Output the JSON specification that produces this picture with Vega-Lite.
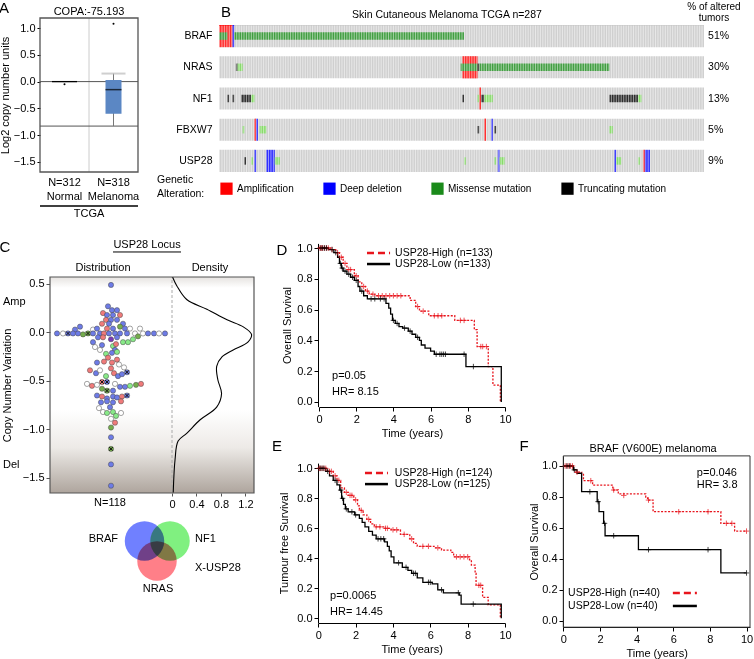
{
"$schema":"https://vega.github.io/schema/vega-lite/v6.json",
"width":754,"height":659,"autosize":{"type":"none"},"padding":0,"background":"white",
"config":{"font":"Liberation Sans","view":{"stroke":null},
 "axis":{"labelFont":"Liberation Sans","titleFont":"Liberation Sans","labelFontSize":11,"titleFontSize":11,"titleFontWeight":"normal","labelColor":"#000","titleColor":"#000","domainColor":"#000","tickColor":"#000","grid":false,"labelFlush":false,"labelOverlap":false},
 "text":{"fontSize":11,"font":"Liberation Sans","color":"#000"},
 "legend":{"labelFont":"Liberation Sans"}},
"datasets":{
 "refA":[{"ref":0},{"ref":-0.83}],
 "boxA":[{"grp":"Normal","q1":-0.012,"med":0,"q3":0.012,"lo":-0.02,"hi":0.02},{"grp":"Melanoma","q1":-0.6,"med":-0.15,"q3":0.03,"lo":-0.83,"hi":0.15}],
 "outA":[{"grp":"Normal","v":-0.05},{"grp":"Melanoma","v":1.08}],
 "genes":[{"g":"BRAF","p":"51%"},{"g":"NRAS","p":"30%"},{"g":"NF1","p":"13%"},{"g":"FBXW7","p":"5%"},{"g":"USP28","p":"9%"}],
 "alt":[
  {"g":"BRAF","s0":0,"s1":8,"t":"Amplification"},{"g":"BRAF","s0":8,"s1":9,"t":"Deep deletion"},{"g":"BRAF","s0":0,"s1":5,"t":"Missense mutation"},{"g":"BRAF","s0":9,"s1":145,"t":"Missense mutation"},
  {"g":"NRAS","s0":10,"s1":11,"t":"Truncating mutation"},{"g":"NRAS","s0":11,"s1":14,"t":"Other mutation"},{"g":"NRAS","s0":144,"s1":153,"t":"Amplification"},{"g":"NRAS","s0":143,"s1":153,"t":"Missense mutation"},{"g":"NRAS","s0":153,"s1":154,"t":"Truncating mutation"},{"g":"NRAS","s0":154,"s1":231,"t":"Missense mutation"},
  {"g":"NF1","s0":5,"s1":6,"t":"Truncating mutation"},{"g":"NF1","s0":8,"s1":9,"t":"Truncating mutation"},{"g":"NF1","s0":13,"s1":19,"t":"Truncating mutation"},{"g":"NF1","s0":19,"s1":21,"t":"Other mutation"},{"g":"NF1","s0":144,"s1":145,"t":"Truncating mutation"},{"g":"NF1","s0":153,"s1":154,"t":"Other mutation"},{"g":"NF1","s0":154,"s1":155,"t":"Amplification"},{"g":"NF1","s0":155,"s1":157,"t":"Truncating mutation"},{"g":"NF1","s0":157,"s1":162,"t":"Other mutation"},{"g":"NF1","s0":231,"s1":248,"t":"Truncating mutation"},{"g":"NF1","s0":248,"s1":250,"t":"Other mutation"},
  {"g":"FBXW7","s0":14,"s1":15,"t":"Other mutation"},{"g":"FBXW7","s0":21,"s1":22,"t":"Amplification"},{"g":"FBXW7","s0":22,"s1":23,"t":"Deep deletion"},{"g":"FBXW7","s0":24,"s1":28,"t":"Other mutation"},{"g":"FBXW7","s0":153,"s1":154,"t":"Truncating mutation"},{"g":"FBXW7","s0":157,"s1":158,"t":"Amplification"},{"g":"FBXW7","s0":161,"s1":162,"t":"Deep deletion"},{"g":"FBXW7","s0":163,"s1":164,"t":"Truncating mutation"},{"g":"FBXW7","s0":231,"s1":233,"t":"Other mutation"},
  {"g":"USP28","s0":15,"s1":16,"t":"Truncating mutation"},{"g":"USP28","s0":19,"s1":20,"t":"Other mutation"},{"g":"USP28","s0":21,"s1":22,"t":"Deep deletion"},{"g":"USP28","s0":28,"s1":33,"t":"Deep deletion"},{"g":"USP28","s0":33,"s1":36,"t":"Other mutation"},{"g":"USP28","s0":145,"s1":146,"t":"Other mutation"},{"g":"USP28","s0":163,"s1":164,"t":"Other mutation"},{"g":"USP28","s0":165,"s1":166,"t":"Deep deletion"},{"g":"USP28","s0":166,"s1":169,"t":"Other mutation"},{"g":"USP28","s0":234,"s1":235,"t":"Deep deletion"},{"g":"USP28","s0":235,"s1":238,"t":"Other mutation"},{"g":"USP28","s0":248,"s1":249,"t":"Other mutation"},{"g":"USP28","s0":251,"s1":252,"t":"Amplification"},{"g":"USP28","s0":252,"s1":255,"t":"Deep deletion"}],
 "dots":[
  {"o":0,"v":0.49,"c":"b"},{"o":-3,"v":0.27,"c":"b"},{"o":1,"v":0.23,"c":"b"},{"o":6,"v":0.23,"c":"b"},{"o":-8,"v":0.2,"c":"r"},{"o":-4,"v":0.18,"c":"b"},{"o":2,"v":0.18,"c":"b"},{"o":9,"v":0.18,"c":"r"},{"o":-5,"v":0.13,"c":"r"},{"o":0,"v":0.13,"c":"b"},{"o":6,"v":0.13,"c":"b"},{"o":-9,"v":0.09,"c":"r"},{"o":-2,"v":0.09,"c":"b"},{"o":12,"v":0.09,"c":"b"},{"o":-31,"v":0.06,"c":"b"},{"o":9,"v":0.06,"c":"o"},{"o":-36,"v":0.03,"c":"b"},{"o":-18,"v":0.03,"c":"w"},{"o":-14,"v":0.04,"c":"b"},{"o":-4,"v":0.04,"c":"r"},{"o":2,"v":0.04,"c":"b"},{"o":14,"v":0.04,"c":"b"},{"o":19,"v":0.04,"c":"w"},{"o":29,"v":0.04,"c":"w"},
  {"o":-54,"v":-0.01,"c":"b"},{"o":-48,"v":-0.01,"c":"w"},{"o":-43,"v":-0.01,"c":"b","x":1},{"o":-38,"v":-0.01,"c":"b"},{"o":-33,"v":-0.01,"c":"b"},{"o":-28,"v":-0.02,"c":"o"},{"o":-23,"v":-0.01,"c":"o","x":1},{"o":-18,"v":-0.01,"c":"b"},{"o":-11,"v":-0.01,"c":"b"},{"o":-7,"v":-0.01,"c":"r"},{"o":-2,"v":-0.01,"c":"b"},{"o":4,"v":-0.01,"c":"b"},{"o":9,"v":-0.01,"c":"b"},{"o":16,"v":-0.01,"c":"b"},{"o":24,"v":-0.01,"c":"w"},{"o":27,"v":-0.04,"c":"o"},{"o":32,"v":-0.01,"c":"w"},{"o":37,"v":-0.01,"c":"b"},{"o":43,"v":-0.01,"c":"b"},{"o":48,"v":-0.01,"c":"w"},{"o":54,"v":-0.01,"c":"b"},
  {"o":-13,"v":-0.05,"c":"b"},{"o":-8,"v":-0.05,"c":"r"},{"o":0,"v":-0.07,"c":"p"},{"o":6,"v":-0.05,"c":"b"},{"o":12,"v":-0.1,"c":"g"},{"o":17,"v":-0.1,"c":"g"},{"o":22,"v":-0.07,"c":"g"},{"o":-18,"v":-0.1,"c":"b"},{"o":-9,"v":-0.13,"c":"b"},{"o":2,"v":-0.14,"c":"g"},{"o":5,"v":-0.12,"c":"r"},{"o":4,"v":-0.18,"c":"b"},{"o":-16,"v":-0.15,"c":"w"},{"o":-11,"v":-0.18,"c":"w"},{"o":-5,"v":-0.22,"c":"g"},{"o":1,"v":-0.21,"c":"b"},{"o":6,"v":-0.2,"c":"g"},{"o":-3,"v":-0.26,"c":"r"},{"o":6,"v":-0.28,"c":"r"},
  {"o":-14,"v":-0.31,"c":"b"},{"o":-7,"v":-0.3,"c":"r"},{"o":1,"v":-0.31,"c":"r"},{"o":8,"v":-0.33,"c":"w"},{"o":13,"v":-0.36,"c":"w"},{"o":-21,"v":-0.39,"c":"r"},{"o":-15,"v":-0.42,"c":"b"},{"o":-11,"v":-0.39,"c":"w"},{"o":-5,"v":-0.45,"c":"g"},{"o":0,"v":-0.37,"c":"r"},{"o":3,"v":-0.42,"c":"r"},{"o":7,"v":-0.45,"c":"b"},{"o":11,"v":-0.43,"c":"b"},{"o":16,"v":-0.41,"c":"b","x":1},
  {"o":-24,"v":-0.53,"c":"w"},{"o":-19,"v":-0.55,"c":"r"},{"o":-14,"v":-0.54,"c":"w"},{"o":-9,"v":-0.51,"c":"r","x":1},{"o":-4,"v":-0.51,"c":"b","x":1},{"o":4,"v":-0.53,"c":"w"},{"o":9,"v":-0.56,"c":"b"},{"o":14,"v":-0.56,"c":"b"},{"o":19,"v":-0.55,"c":"g"},{"o":25,"v":-0.54,"c":"o"},{"o":30,"v":-0.53,"c":"r"},{"o":-9,"v":-0.58,"c":"o"},{"o":-4,"v":-0.6,"c":"o","x":1},{"o":2,"v":-0.6,"c":"b"},
  {"o":-14,"v":-0.65,"c":"b"},{"o":-9,"v":-0.66,"c":"r"},{"o":-4,"v":-0.68,"c":"b"},{"o":2,"v":-0.66,"c":"b"},{"o":6,"v":-0.67,"c":"b"},{"o":11,"v":-0.66,"c":"r"},{"o":16,"v":-0.65,"c":"b","x":1},{"o":-10,"v":-0.72,"c":"b"},{"o":-4,"v":-0.71,"c":"b"},{"o":2,"v":-0.72,"c":"b"},{"o":10,"v":-0.71,"c":"r"},{"o":-1,"v":-0.77,"c":"b"},{"o":-12,"v":-0.78,"c":"w"},{"o":-8,"v":-0.82,"c":"w"},{"o":-4,"v":-0.83,"c":"g"},{"o":2,"v":-0.82,"c":"g"},{"o":10,"v":-0.83,"c":"w"},{"o":5,"v":-0.86,"c":"g"},{"o":0,"v":-0.89,"c":"w"},{"o":4,"v":-0.93,"c":"r"},{"o":0,"v":-0.98,"c":"o"},{"o":0,"v":-1.08,"c":"b"},{"o":0,"v":-1.2,"c":"o","x":1},{"o":0,"v":-1.36,"c":"b"},{"o":0,"v":-1.58,"c":"b"}],
 "dens":[{"d":0.01,"v":0.57},{"d":0.08,"v":0.48},{"d":0.24,"v":0.34},{"d":0.57,"v":0.24},{"d":0.9,"v":0.13},{"d":1.16,"v":0.06},{"d":1.3,"v":-0.02},{"d":1.24,"v":-0.1},{"d":1.0,"v":-0.18},{"d":0.82,"v":-0.25},{"d":0.73,"v":-0.35},{"d":0.75,"v":-0.49},{"d":0.81,"v":-0.63},{"d":0.73,"v":-0.77},{"d":0.46,"v":-0.9},{"d":0.24,"v":-1.04},{"d":0.1,"v":-1.12},{"d":0.05,"v":-1.31},{"d":0.02,"v":-1.65}],
 "kmD":[
  {"g":"High","t":0,"s":1},{"g":"High","t":0.6,"s":0.99},{"g":"High","t":0.9,"s":0.97},{"g":"High","t":1.1,"s":0.94},{"g":"High","t":1.3,"s":0.9},{"g":"High","t":1.5,"s":0.86},{"g":"High","t":1.9,"s":0.82},{"g":"High","t":2.1,"s":0.78},{"g":"High","t":2.3,"s":0.75},{"g":"High","t":2.5,"s":0.72},{"g":"High","t":2.7,"s":0.7},{"g":"High","t":3.0,"s":0.69},{"g":"High","t":4.9,"s":0.66},{"g":"High","t":5.2,"s":0.62},{"g":"High","t":5.4,"s":0.59},{"g":"High","t":5.9,"s":0.56},{"g":"High","t":7.3,"s":0.53},{"g":"High","t":8.35,"s":0.47},{"g":"High","t":8.5,"s":0.36},{"g":"High","t":9.1,"s":0.23},{"g":"High","t":9.35,"s":0.11},{"g":"High","t":9.75,"s":0},
  {"g":"Low","t":0,"s":1},{"g":"Low","t":0.5,"s":0.99},{"g":"Low","t":0.8,"s":0.97},{"g":"Low","t":1.0,"s":0.94},{"g":"Low","t":1.1,"s":0.9},{"g":"Low","t":1.2,"s":0.87},{"g":"Low","t":1.3,"s":0.85},{"g":"Low","t":1.5,"s":0.83},{"g":"Low","t":1.7,"s":0.81},{"g":"Low","t":1.9,"s":0.79},{"g":"Low","t":2.1,"s":0.75},{"g":"Low","t":2.2,"s":0.72},{"g":"Low","t":2.4,"s":0.69},{"g":"Low","t":2.6,"s":0.67},{"g":"Low","t":3.6,"s":0.64},{"g":"Low","t":3.75,"s":0.61},{"g":"Low","t":3.85,"s":0.57},{"g":"Low","t":3.95,"s":0.53},{"g":"Low","t":4.1,"s":0.51},{"g":"Low","t":4.3,"s":0.49},{"g":"Low","t":4.5,"s":0.48},{"g":"Low","t":4.8,"s":0.46},{"g":"Low","t":5.0,"s":0.44},{"g":"Low","t":5.2,"s":0.42},{"g":"Low","t":5.4,"s":0.4},{"g":"Low","t":5.5,"s":0.37},{"g":"Low","t":5.7,"s":0.35},{"g":"Low","t":6.0,"s":0.33},{"g":"Low","t":6.2,"s":0.31},{"g":"Low","t":7.9,"s":0.23},{"g":"Low","t":9.8,"s":0}],
 "cD":[
  {"g":"High","t":0.05,"s":1},{"g":"High","t":0.1,"s":1},{"g":"High","t":0.15,"s":1},{"g":"High","t":0.2,"s":1},{"g":"High","t":0.3,"s":1},{"g":"High","t":0.4,"s":1},{"g":"High","t":0.5,"s":1},{"g":"High","t":0.7,"s":0.99},{"g":"High","t":1.0,"s":0.97},{"g":"High","t":1.2,"s":0.94},{"g":"High","t":1.4,"s":0.9},{"g":"High","t":1.6,"s":0.86},{"g":"High","t":1.7,"s":0.86},{"g":"High","t":2.0,"s":0.82},{"g":"High","t":2.4,"s":0.75},{"g":"High","t":2.6,"s":0.72},{"g":"High","t":2.9,"s":0.7},{"g":"High","t":3.2,"s":0.69},{"g":"High","t":3.4,"s":0.69},{"g":"High","t":3.6,"s":0.69},{"g":"High","t":3.8,"s":0.69},{"g":"High","t":4.0,"s":0.69},{"g":"High","t":4.2,"s":0.69},{"g":"High","t":4.4,"s":0.69},{"g":"High","t":5.3,"s":0.62},{"g":"High","t":5.6,"s":0.59},{"g":"High","t":6.2,"s":0.56},{"g":"High","t":6.4,"s":0.56},{"g":"High","t":6.6,"s":0.56},{"g":"High","t":7.6,"s":0.53},{"g":"High","t":7.8,"s":0.53},{"g":"High","t":8.7,"s":0.36},{"g":"High","t":8.8,"s":0.36},{"g":"High","t":9.0,"s":0.36},
  {"g":"Low","t":0.1,"s":1},{"g":"Low","t":0.2,"s":1},{"g":"Low","t":0.3,"s":1},{"g":"Low","t":0.4,"s":1},{"g":"Low","t":0.7,"s":0.99},{"g":"Low","t":0.9,"s":0.97},{"g":"Low","t":1.15,"s":0.9},{"g":"Low","t":1.25,"s":0.87},{"g":"Low","t":1.4,"s":0.85},{"g":"Low","t":1.6,"s":0.83},{"g":"Low","t":1.8,"s":0.81},{"g":"Low","t":2.0,"s":0.79},{"g":"Low","t":2.3,"s":0.72},{"g":"Low","t":2.8,"s":0.67},{"g":"Low","t":3.0,"s":0.67},{"g":"Low","t":3.3,"s":0.67},{"g":"Low","t":3.5,"s":0.67},{"g":"Low","t":4.0,"s":0.53},{"g":"Low","t":4.2,"s":0.51},{"g":"Low","t":4.6,"s":0.48},{"g":"Low","t":4.9,"s":0.46},{"g":"Low","t":5.3,"s":0.42},{"g":"Low","t":6.3,"s":0.31},{"g":"Low","t":6.5,"s":0.31},{"g":"Low","t":6.6,"s":0.31},{"g":"Low","t":6.7,"s":0.31},{"g":"Low","t":6.8,"s":0.31},{"g":"Low","t":7.8,"s":0.31},{"g":"Low","t":8.3,"s":0.23}],
 "kmE":[
  {"g":"High","t":0,"s":1},{"g":"High","t":0.5,"s":0.98},{"g":"High","t":0.8,"s":0.95},{"g":"High","t":1.0,"s":0.92},{"g":"High","t":1.2,"s":0.87},{"g":"High","t":1.4,"s":0.84},{"g":"High","t":1.6,"s":0.82},{"g":"High","t":1.9,"s":0.79},{"g":"High","t":2.1,"s":0.75},{"g":"High","t":2.2,"s":0.72},{"g":"High","t":2.4,"s":0.69},{"g":"High","t":2.6,"s":0.66},{"g":"High","t":2.8,"s":0.63},{"g":"High","t":3.0,"s":0.61},{"g":"High","t":3.5,"s":0.6},{"g":"High","t":3.9,"s":0.59},{"g":"High","t":4.4,"s":0.56},{"g":"High","t":4.9,"s":0.53},{"g":"High","t":5.1,"s":0.5},{"g":"High","t":5.3,"s":0.48},{"g":"High","t":6.2,"s":0.47},{"g":"High","t":6.6,"s":0.455},{"g":"High","t":7.1,"s":0.44},{"g":"High","t":7.25,"s":0.41},{"g":"High","t":8.1,"s":0.39},{"g":"High","t":8.2,"s":0.355},{"g":"High","t":8.4,"s":0.3},{"g":"High","t":8.45,"s":0.22},{"g":"High","t":8.8,"s":0.14},{"g":"High","t":9.1,"s":0.09},{"g":"High","t":9.75,"s":0},
  {"g":"Low","t":0,"s":1},{"g":"Low","t":0.4,"s":0.98},{"g":"Low","t":0.6,"s":0.95},{"g":"Low","t":0.8,"s":0.92},{"g":"Low","t":1.0,"s":0.89},{"g":"Low","t":1.15,"s":0.855},{"g":"Low","t":1.25,"s":0.8},{"g":"Low","t":1.35,"s":0.76},{"g":"Low","t":1.45,"s":0.73},{"g":"Low","t":1.6,"s":0.71},{"g":"Low","t":1.95,"s":0.69},{"g":"Low","t":2.2,"s":0.667},{"g":"Low","t":2.35,"s":0.64},{"g":"Low","t":2.5,"s":0.61},{"g":"Low","t":2.7,"s":0.58},{"g":"Low","t":2.9,"s":0.555},{"g":"Low","t":3.1,"s":0.53},{"g":"Low","t":3.55,"s":0.51},{"g":"Low","t":3.7,"s":0.48},{"g":"Low","t":3.8,"s":0.45},{"g":"Low","t":3.9,"s":0.41},{"g":"Low","t":4.05,"s":0.37},{"g":"Low","t":4.5,"s":0.34},{"g":"Low","t":4.8,"s":0.32},{"g":"Low","t":5.0,"s":0.3},{"g":"Low","t":5.3,"s":0.27},{"g":"Low","t":5.6,"s":0.24},{"g":"Low","t":6.1,"s":0.23},{"g":"Low","t":6.4,"s":0.19},{"g":"Low","t":6.7,"s":0.17},{"g":"Low","t":7.55,"s":0.155},{"g":"Low","t":7.65,"s":0.095},{"g":"Low","t":9.8,"s":0}],
 "cE":[
  {"g":"High","t":0.05,"s":1},{"g":"High","t":0.1,"s":1},{"g":"High","t":0.2,"s":1},{"g":"High","t":0.3,"s":1},{"g":"High","t":0.4,"s":1},{"g":"High","t":0.6,"s":0.98},{"g":"High","t":0.7,"s":0.98},{"g":"High","t":0.9,"s":0.95},{"g":"High","t":1.1,"s":0.92},{"g":"High","t":1.5,"s":0.84},{"g":"High","t":1.7,"s":0.82},{"g":"High","t":1.8,"s":0.82},{"g":"High","t":2.0,"s":0.79},{"g":"High","t":2.3,"s":0.72},{"g":"High","t":2.7,"s":0.66},{"g":"High","t":3.1,"s":0.61},{"g":"High","t":3.3,"s":0.61},{"g":"High","t":3.6,"s":0.6},{"g":"High","t":3.7,"s":0.6},{"g":"High","t":4.0,"s":0.59},{"g":"High","t":4.2,"s":0.59},{"g":"High","t":4.6,"s":0.56},{"g":"High","t":5.0,"s":0.53},{"g":"High","t":5.6,"s":0.48},{"g":"High","t":5.9,"s":0.48},{"g":"High","t":6.4,"s":0.47},{"g":"High","t":7.4,"s":0.41},{"g":"High","t":7.6,"s":0.41},{"g":"High","t":7.8,"s":0.41},{"g":"High","t":8.0,"s":0.41},{"g":"High","t":8.6,"s":0.22},{"g":"High","t":8.7,"s":0.22},
  {"g":"Low","t":0.1,"s":1},{"g":"Low","t":0.2,"s":1},{"g":"Low","t":0.3,"s":1},{"g":"Low","t":0.5,"s":0.98},{"g":"Low","t":0.9,"s":0.92},{"g":"Low","t":1.2,"s":0.855},{"g":"Low","t":1.3,"s":0.8},{"g":"Low","t":1.5,"s":0.73},{"g":"Low","t":1.8,"s":0.71},{"g":"Low","t":2.0,"s":0.69},{"g":"Low","t":3.2,"s":0.53},{"g":"Low","t":3.35,"s":0.53},{"g":"Low","t":3.5,"s":0.53},{"g":"Low","t":4.3,"s":0.37},{"g":"Low","t":4.7,"s":0.34},{"g":"Low","t":5.1,"s":0.3},{"g":"Low","t":5.2,"s":0.3},{"g":"Low","t":5.9,"s":0.24},{"g":"Low","t":6.0,"s":0.24},{"g":"Low","t":6.6,"s":0.19},{"g":"Low","t":7.5,"s":0.17},{"g":"Low","t":8.3,"s":0.095}],
 "kmF":[
  {"g":"High","t":0,"s":1},{"g":"High","t":0.55,"s":0.975},{"g":"High","t":0.65,"s":0.96},{"g":"High","t":1.0,"s":0.946},{"g":"High","t":1.1,"s":0.905},{"g":"High","t":1.6,"s":0.877},{"g":"High","t":2.7,"s":0.845},{"g":"High","t":3.0,"s":0.82},{"g":"High","t":4.5,"s":0.8},{"g":"High","t":4.6,"s":0.78},{"g":"High","t":4.9,"s":0.705},{"g":"High","t":8.6,"s":0.63},{"g":"High","t":9.35,"s":0.58},{"g":"High","t":10,"s":0.58},
  {"g":"Low","t":0,"s":1},{"g":"Low","t":0.55,"s":0.975},{"g":"Low","t":0.75,"s":0.953},{"g":"Low","t":1.0,"s":0.834},{"g":"Low","t":1.85,"s":0.77},{"g":"Low","t":1.95,"s":0.705},{"g":"Low","t":2.2,"s":0.63},{"g":"Low","t":2.28,"s":0.55},{"g":"Low","t":4.1,"s":0.46},{"g":"Low","t":8.6,"s":0.31},{"g":"Low","t":10,"s":0.31}],
 "cF":[
  {"g":"High","t":0.1,"s":1},{"g":"High","t":0.2,"s":1},{"g":"High","t":0.3,"s":1},{"g":"High","t":0.4,"s":1},{"g":"High","t":0.5,"s":1},{"g":"High","t":0.75,"s":0.96},{"g":"High","t":1.5,"s":0.905},{"g":"High","t":2.75,"s":0.845},{"g":"High","t":3.3,"s":0.81},{"g":"High","t":4.65,"s":0.78},{"g":"High","t":6.3,"s":0.705},{"g":"High","t":7.9,"s":0.705},{"g":"High","t":8.9,"s":0.63},{"g":"High","t":9.2,"s":0.63},{"g":"High","t":10,"s":0.58},
  {"g":"Low","t":0.2,"s":1},{"g":"Low","t":0.35,"s":1},{"g":"Low","t":0.6,"s":0.975},{"g":"Low","t":1.45,"s":0.834},{"g":"Low","t":1.9,"s":0.77},{"g":"Low","t":2.25,"s":0.63},{"g":"Low","t":2.75,"s":0.55},{"g":"Low","t":4.65,"s":0.46},{"g":"Low","t":7.9,"s":0.46},{"g":"Low","t":10,"s":0.31}]
},
"layer":[
 {"layer":[
  {"data":{"values":[{}]},"mark":{"type":"rule","color":"#cccccc"},"encoding":{"x":{"datum":1,"type":"quantitative","scale":{"domain":[0,2],"range":[40,138],"nice":false,"zero":false},"axis":null},"y":{"datum":-1.687,"type":"quantitative","scale":{"domain":[-1.687,1.187],"range":[172,18],"nice":false,"zero":false},"axis":{"orient":"left","offset":-40,"values":[-1.5,-1,-0.5,0,0.5,1],"format":".1f","title":"Log2 copy number units","tickSize":3,"labelPadding":2,"titlePadding":3,"domain":false}},"y2":{"datum":1.187}}},
  {"data":{"name":"refA"},"mark":{"type":"rule","color":"#555","strokeWidth":1},"encoding":{"x":{"datum":0,"axis":null},"x2":{"datum":2},"y":{"field":"ref","type":"quantitative"}}},
  {"data":{"values":[{}]},"mark":{"type":"rect","fill":null,"stroke":"#555","strokeWidth":1.3},"encoding":{"x":{"datum":0,"axis":null},"x2":{"datum":2},"y":{"datum":-1.687},"y2":{"datum":1.187}}},
  {"data":{"values":[{}]},"mark":{"type":"rule","color":"#000","strokeWidth":1.5},"encoding":{"x":{"datum":0,"axis":null},"x2":{"datum":2},"y":{"datum":-2.322}}},
  {"data":{"values":[{}]},"mark":{"type":"text","text":"TCGA"},"encoding":{"x":{"datum":1,"axis":null},"y":{"datum":-2.471}}},
  {"data":{"values":[{}]},"mark":{"type":"text","text":"COPA:-75.193"},"encoding":{"x":{"datum":1,"axis":null},"y":{"datum":1.299}}},
  {"data":{"values":[{}]},"mark":{"type":"text","text":"A","fontSize":15},"encoding":{"x":{"datum":-0.735,"axis":null},"y":{"datum":1.374}}}
 ]},
 {"layer":[
  {"data":{"name":"boxA"},"transform":[{"filter":"datum.grp=='Melanoma'"}],"mark":{"type":"rule","color":"#777"},"encoding":{"x":{"field":"grp","type":"nominal","scale":{"type":"band","domain":["Normal","Melanoma"],"range":[40,138],"paddingInner":0,"paddingOuter":0},"axis":{"orient":"bottom","offset":-487,"labelExpr":"datum.value == 'Normal' ? ['N=312','Normal'] : ['N=318','Melanoma']","ticks":false,"domain":false,"labelPadding":4,"labelLineHeight":14,"labelAngle":0,"title":null}},"y":{"field":"lo","type":"quantitative","scale":{"domain":[-1.687,1.187],"range":[172,18],"nice":false,"zero":false},"axis":null},"y2":{"field":"hi"}}},
  {"data":{"name":"boxA"},"transform":[{"filter":"datum.grp=='Normal'"}],"mark":{"type":"bar","size":25,"color":"#000"},"encoding":{"x":{"field":"grp","type":"nominal"},"y":{"field":"q1","type":"quantitative","axis":null},"y2":{"field":"q3"}}},
  {"data":{"name":"boxA"},"transform":[{"filter":"datum.grp=='Melanoma'"}],"mark":{"type":"bar","size":16,"color":"#5b87c4"},"encoding":{"x":{"field":"grp","type":"nominal"},"y":{"field":"q1","type":"quantitative","axis":null},"y2":{"field":"q3"}}},
  {"data":{"name":"boxA"},"transform":[{"filter":"datum.grp=='Melanoma'"}],"mark":{"type":"tick","size":16,"thickness":1.5,"color":"#000"},"encoding":{"x":{"field":"grp","type":"nominal"},"y":{"field":"med","type":"quantitative","axis":null}}},
  {"data":{"name":"boxA"},"transform":[{"filter":"datum.grp=='Melanoma'"}],"mark":{"type":"tick","size":24,"thickness":2,"color":"#bbbbbb"},"encoding":{"x":{"field":"grp","type":"nominal"},"y":{"field":"hi","type":"quantitative","axis":null}}},
  {"data":{"name":"outA"},"mark":{"type":"point","filled":true,"size":4,"color":"#000","opacity":1},"encoding":{"x":{"field":"grp","type":"nominal"},"y":{"field":"v","type":"quantitative","axis":null}}}
 ]},
 {"layer":[
  {"data":{"name":"genes"},"mark":{"type":"bar","color":"#c6c6c6"},"encoding":{"x":{"datum":0,"type":"quantitative","scale":{"domain":[0,287],"range":[219,704],"nice":false,"zero":false},"axis":{"orient":"bottom","offset":-634,"tickCount":287,"tickRound":false,"labels":false,"domain":false,"tickSize":147,"tickColor":"white","tickWidth":0.6,"title":null,"zindex":1}},"x2":{"datum":287},"y":{"field":"g","type":"nominal","scale":{"domain":["BRAF","NRAS","NF1","FBXW7","USP28"],"range":[25,172],"paddingInner":0.29,"paddingOuter":0},"axis":{"orient":"left","offset":-215,"ticks":false,"domain":false,"labelPadding":3,"labelFontSize":10.5,"title":null}}}},
  {"data":{"name":"alt"},"transform":[{"filter":{"field":"t","oneOf":["Amplification","Deep deletion"]}}],"mark":{"type":"bar"},"encoding":{"x":{"field":"s0","type":"quantitative"},"x2":{"field":"s1"},"y":{"field":"g","type":"nominal"},"color":{"field":"t","type":"nominal","scale":{"domain":["Amplification","Deep deletion","Missense mutation","Truncating mutation","Other mutation"],"range":["#ff0000","#0000ff","#1a8a1a","#000000","#6fd44c"]},"legend":{"orient":"none","legendX":220,"legendY":182,"direction":"horizontal","columns":4,"title":null,"symbolType":"square","symbolSize":150,"symbolStrokeWidth":0,"symbolOpacity":1,"labelFontSize":10,"labelOffset":4,"columnPadding":29,"padding":0,"values":["Amplification","Deep deletion","Missense mutation","Truncating mutation"]}}}},
  {"data":{"name":"alt"},"transform":[{"filter":{"field":"t","oneOf":["Missense mutation","Truncating mutation","Other mutation"]}}],"mark":{"type":"bar","size":7.5},"encoding":{"x":{"field":"s0","type":"quantitative"},"x2":{"field":"s1"},"y":{"field":"g","type":"nominal"},"color":{"field":"t","type":"nominal","legend":null}}},
  {"data":{"name":"genes"},"mark":{"type":"text","align":"left","fontSize":10.5},"encoding":{"x":{"datum":289.4},"y":{"field":"g","type":"nominal"},"text":{"field":"p"}}},
  {"data":{"values":[{}]},"mark":{"type":"text","text":"Skin Cutaneous Melanoma TCGA n=287","fontSize":10.5,"dy":-21},"encoding":{"x":{"datum":134.9},"y":{"datum":"BRAF","type":"nominal"}}},
  {"data":{"values":[{}]},"mark":{"type":"text","text":["% of altered","tumors"],"fontSize":10,"lineHeight":11,"dy":-29},"encoding":{"x":{"datum":292.9},"y":{"datum":"BRAF","type":"nominal"}}},
  {"data":{"values":[{}]},"mark":{"type":"text","text":"B","fontSize":15,"dy":-24},"encoding":{"x":{"datum":4.1},"y":{"datum":"BRAF","type":"nominal"}}},
  {"data":{"values":[{}]},"mark":{"type":"text","text":["Genetic","Alteration:"],"fontSize":10.5,"lineHeight":14,"align":"left","dy":19},"encoding":{"x":{"datum":-36.7},"y":{"datum":"USP28","type":"nominal"}}}
 ]},
 {"layer":[
  {"data":{"values":[{}]},"mark":{"type":"rect","fill":{"gradient":"linear","x1":0,"y1":0,"x2":0,"y2":1,"stops":[{"offset":0,"color":"#ffffff"},{"offset":0.45,"color":"#edeae7"},{"offset":1,"color":"#aea59d"}]}},"encoding":{"x":{"datum":-61,"type":"quantitative","scale":{"domain":[-61,61],"range":[50,172],"nice":false,"zero":false},"axis":null},"x2":{"datum":143},"y":{"datum":-0.8,"type":"quantitative","scale":{"domain":[-1.655,0.572],"range":[493,277],"nice":false,"zero":false},"axis":{"orient":"left","offset":-50,"values":[-1.5,-1,-0.5,0,0.5],"format":".1f","title":"Copy Number Variation","tickSize":4,"labelPadding":2,"titlePadding":10,"domain":false,"tickColor":"#555"}},"y2":{"datum":-1.655}}},
  {"data":{"values":[{}]},"mark":{"type":"rect","fill":{"gradient":"linear","x1":0,"y1":0,"x2":0,"y2":1,"stops":[{"offset":0,"color":"#e6e3e0"},{"offset":1,"color":"#ffffff"}]}},"encoding":{"x":{"datum":-61,"axis":null},"x2":{"datum":143},"y":{"datum":0.572},"y2":{"datum":0.46}}},
  {"data":{"values":[{}]},"mark":{"type":"rule","color":"#aaaaaa","strokeDash":[3,2]},"encoding":{"x":{"datum":61,"axis":null},"y":{"datum":-1.655},"y2":{"datum":0.572}}},
  {"data":{"values":[{}]},"mark":{"type":"rect","fill":null,"stroke":"#555","strokeWidth":1.2},"encoding":{"x":{"datum":-61,"axis":null},"x2":{"datum":143},"y":{"datum":-1.655},"y2":{"datum":0.572}}},
  {"data":{"name":"dots"},"mark":{"type":"point","filled":true,"size":27,"stroke":"#4a4a4a","strokeWidth":0.5,"opacity":1},"encoding":{"x":{"field":"o","type":"quantitative","axis":null},"y":{"field":"v","type":"quantitative"},"fill":{"field":"c","type":"nominal","scale":{"domain":["b","r","g","o","w","p"],"range":["#6d7be6","#f07a7a","#88ea88","#74ad4c","#ffffff","#7a3ab5"]},"legend":null}}},
  {"data":{"name":"dots"},"transform":[{"filter":"datum.x == 1"}],"mark":{"type":"point","shape":"M-1,-1L1,1M1,-1L-1,1","filled":false,"size":14,"stroke":"#111","strokeWidth":1,"opacity":1},"encoding":{"x":{"field":"o","type":"quantitative","axis":null},"y":{"field":"v","type":"quantitative"}}},
  {"data":{"values":[{}]},"mark":{"type":"point","filled":true,"size":1560,"fill":"#7080ff","opacity":1,"strokeWidth":0,"blend":"multiply"},"encoding":{"x":{"datum":33.5,"axis":null},"y":{"datum":-2.15}}},
  {"data":{"values":[{}]},"mark":{"type":"point","filled":true,"size":1560,"fill":"#80f080","opacity":1,"strokeWidth":0,"blend":"multiply"},"encoding":{"x":{"datum":59,"axis":null},"y":{"datum":-2.15}}},
  {"data":{"values":[{}]},"mark":{"type":"point","filled":true,"size":1560,"fill":"#ff7f88","opacity":1,"strokeWidth":0,"blend":"multiply"},"encoding":{"x":{"datum":46,"axis":null},"y":{"datum":-2.356}}},
  {"data":{"values":[{}]},"mark":{"type":"text","text":"BRAF","align":"right"},"encoding":{"x":{"datum":7,"axis":null},"y":{"datum":-2.13}}},
  {"data":{"values":[{}]},"mark":{"type":"text","text":"NF1","align":"left"},"encoding":{"x":{"datum":84,"axis":null},"y":{"datum":-2.13}}},
  {"data":{"values":[{}]},"mark":{"type":"text","text":"X-USP28","align":"left"},"encoding":{"x":{"datum":84,"axis":null},"y":{"datum":-2.428}}},
  {"data":{"values":[{}]},"mark":{"type":"text","text":"NRAS"},"encoding":{"x":{"datum":47,"axis":null},"y":{"datum":-2.645}}},
  {"data":{"values":[{}]},"mark":{"type":"text","text":"C","fontSize":15},"encoding":{"x":{"datum":-106,"axis":null},"y":{"datum":0.881}}},
  {"data":{"values":[{}]},"mark":{"type":"text","text":"USP28 Locus"},"encoding":{"x":{"datum":36,"axis":null},"y":{"datum":0.902}}},
  {"data":{"values":[{}]},"mark":{"type":"rule","color":"#000","strokeWidth":1},"encoding":{"x":{"datum":2,"axis":null},"x2":{"datum":70},"y":{"datum":0.83}}},
  {"data":{"values":[{}]},"mark":{"type":"text","text":"Distribution"},"encoding":{"x":{"datum":-8,"axis":null},"y":{"datum":0.665}}},
  {"data":{"values":[{}]},"mark":{"type":"text","text":"Density"},"encoding":{"x":{"datum":99,"axis":null},"y":{"datum":0.665}}},
  {"data":{"values":[{}]},"mark":{"type":"text","text":"Amp","align":"left"},"encoding":{"x":{"datum":-108,"axis":null},"y":{"datum":0.314}}},
  {"data":{"values":[{}]},"mark":{"type":"text","text":"Del","align":"left"},"encoding":{"x":{"datum":-108,"axis":null},"y":{"datum":-1.366}}},
  {"data":{"values":[{}]},"mark":{"type":"text","text":"N=118"},"encoding":{"x":{"datum":-1,"axis":null},"y":{"datum":-1.758}}}
 ]},
 {"layer":[
  {"data":{"name":"dens"},"mark":{"type":"line","color":"#000","strokeWidth":1.1,"interpolate":"catmull-rom"},"encoding":{"x":{"field":"d","type":"quantitative","scale":{"domain":[0,1.34],"range":[172,254],"nice":false,"zero":false},"axis":{"orient":"bottom","offset":-166,"values":[0,0.4,0.8,1.2],"labelExpr":"datum.value == 0 ? '0' : format(datum.value, '.1f')","tickSize":3,"labelPadding":2,"domain":false,"title":null,"tickColor":"#555"}},"y":{"field":"v","type":"quantitative","scale":{"domain":[-1.655,0.572],"range":[493,277],"nice":false,"zero":false},"axis":null},"order":{"field":"v","type":"quantitative"}}}
 ]},
 {"layer":[
  {"data":{"name":"kmD"},"mark":{"type":"line","interpolate":"step-after","strokeWidth":1.3},"encoding":{"x":{"field":"t","type":"quantitative","scale":{"domain":[0,10],"range":[319,505],"nice":false,"zero":false},"axis":{"orient":"bottom","offset":-252,"values":[0,2,4,6,8,10],"format":"d","title":"Time (years)","tickSize":4,"labelPadding":2,"titlePadding":3}},"y":{"field":"s","type":"quantitative","scale":{"domain":[-0.03,1.03],"range":[406.6,243.4],"nice":false,"zero":false},"axis":{"orient":"left","offset":-318,"values":[0,0.2,0.4,0.6,0.8,1],"format":".1f","title":"Overall Survival","tickSize":4,"labelPadding":2,"titlePadding":4}},"color":{"field":"g","type":"nominal","scale":{"domain":["High","Low"],"range":["#e8141c","#000000"]},"legend":null},"strokeDash":{"field":"g","type":"nominal","scale":{"domain":["High","Low"],"range":[[2,1.5],[1,0]]},"legend":null}}},
  {"data":{"name":"cD"},"mark":{"type":"point","shape":"M-1,0L1,0M0,-1L0,1","size":30,"strokeWidth":0.9,"filled":false,"opacity":0.8},"encoding":{"x":{"field":"t","type":"quantitative"},"y":{"field":"s","type":"quantitative"},"color":{"field":"g","type":"nominal","legend":null}}},
  {"data":{"values":[{}]},"mark":{"type":"rule","color":"#e8141c","strokeWidth":2.5,"strokeDash":[7,4]},"encoding":{"x":{"datum":2.58},"x2":{"datum":3.82},"y":{"datum":0.967}}},
  {"data":{"values":[{}]},"mark":{"type":"rule","color":"#000","strokeWidth":2.5},"encoding":{"x":{"datum":2.58},"x2":{"datum":3.82},"y":{"datum":0.896}}},
  {"data":{"values":[{}]},"mark":{"type":"text","text":["USP28-High (n=133)","USP28-Low (n=133)"],"align":"left","fontSize":10.5,"lineHeight":11},"encoding":{"x":{"datum":4.09},"y":{"datum":0.967}}},
  {"data":{"values":[{}]},"mark":{"type":"text","text":["p=0.05","HR= 8.15"],"align":"left","lineHeight":16},"encoding":{"x":{"datum":0.7},"y":{"datum":0.169}}},
  {"data":{"values":[{}]},"mark":{"type":"text","text":"D","fontSize":15},"encoding":{"x":{"datum":-1.99},"y":{"datum":0.987}}}
 ]},
 {"layer":[
  {"data":{"name":"kmE"},"mark":{"type":"line","interpolate":"step-after","strokeWidth":1.3},"encoding":{"x":{"field":"t","type":"quantitative","scale":{"domain":[0,10],"range":[318.3,505],"nice":false,"zero":false},"axis":{"orient":"bottom","offset":-36,"values":[0,2,4,6,8,10],"format":"d","title":"Time (years)","tickSize":4,"labelPadding":2,"titlePadding":3}},"y":{"field":"s","type":"quantitative","scale":{"domain":[-0.03,1.035],"range":[622.8,463.1],"nice":false,"zero":false},"axis":{"orient":"left","offset":-318,"values":[0,0.2,0.4,0.6,0.8,1],"format":".1f","title":"Tumour free Survival","tickSize":4,"labelPadding":2,"titlePadding":7}},"color":{"field":"g","type":"nominal","scale":{"domain":["High","Low"],"range":["#e8141c","#000000"]},"legend":null},"strokeDash":{"field":"g","type":"nominal","scale":{"domain":["High","Low"],"range":[[2,1.5],[1,0]]},"legend":null}}},
  {"data":{"name":"cE"},"mark":{"type":"point","shape":"M-1,0L1,0M0,-1L0,1","size":30,"strokeWidth":0.9,"filled":false,"opacity":0.8},"encoding":{"x":{"field":"t","type":"quantitative"},"y":{"field":"s","type":"quantitative"},"color":{"field":"g","type":"nominal","legend":null}}},
  {"data":{"values":[{}]},"mark":{"type":"rule","color":"#e8141c","strokeWidth":2.5,"strokeDash":[7,4]},"encoding":{"x":{"datum":2.5},"x2":{"datum":3.73},"y":{"datum":0.969}}},
  {"data":{"values":[{}]},"mark":{"type":"rule","color":"#000","strokeWidth":2.5},"encoding":{"x":{"datum":2.5},"x2":{"datum":3.73},"y":{"datum":0.895}}},
  {"data":{"values":[{}]},"mark":{"type":"text","text":["USP28-High (n=124)","USP28-Low (n=125)"],"align":"left","fontSize":10.5,"lineHeight":11},"encoding":{"x":{"datum":4.1},"y":{"datum":0.969}}},
  {"data":{"values":[{}]},"mark":{"type":"text","text":["p=0.0065","HR= 14.45"],"align":"left","lineHeight":16},"encoding":{"x":{"datum":0.63},"y":{"datum":0.149}}},
  {"data":{"values":[{}]},"mark":{"type":"text","text":"E","fontSize":15},"encoding":{"x":{"datum":-2.21},"y":{"datum":1.149}}}
 ]},
 {"layer":[
  {"data":{"name":"kmF"},"mark":{"type":"line","interpolate":"step-after","strokeWidth":1.3},"encoding":{"x":{"field":"t","type":"quantitative","scale":{"domain":[0,10.19],"range":[563.3,750],"nice":false,"zero":false},"axis":{"orient":"bottom","offset":-32,"values":[0,2,4,6,8,10],"format":"d","title":"Time (years)","tickSize":4,"labelPadding":2,"titlePadding":3}},"y":{"field":"s","type":"quantitative","scale":{"domain":[-0.04,1.065],"range":[627.2,455.9],"nice":false,"zero":false},"axis":{"orient":"left","offset":-563,"values":[0,0.2,0.4,0.6,0.8,1],"format":".1f","title":"Overall Survival","tickSize":4,"labelPadding":2,"titlePadding":2}},"color":{"field":"g","type":"nominal","scale":{"domain":["High","Low"],"range":["#e8141c","#000000"]},"legend":null},"strokeDash":{"field":"g","type":"nominal","scale":{"domain":["High","Low"],"range":[[2,1.5],[1,0]]},"legend":null}}},
  {"data":{"name":"cF"},"mark":{"type":"point","shape":"M-1,0L1,0M0,-1L0,1","size":30,"strokeWidth":0.9,"filled":false,"opacity":0.8},"encoding":{"x":{"field":"t","type":"quantitative"},"y":{"field":"s","type":"quantitative"},"color":{"field":"g","type":"nominal","legend":null}}},
  {"data":{"values":[{}]},"mark":{"type":"rect","fill":null,"stroke":"#333","strokeWidth":1},"encoding":{"x":{"datum":0},"x2":{"datum":10.19},"y":{"datum":-0.04},"y2":{"datum":1.065}}},
  {"data":{"values":[{}]},"mark":{"type":"rule","color":"#e8141c","strokeWidth":2.5,"strokeDash":[7,4]},"encoding":{"x":{"datum":5.98},"x2":{"datum":7.29},"y":{"datum":0.181}}},
  {"data":{"values":[{}]},"mark":{"type":"rule","color":"#000","strokeWidth":2.5},"encoding":{"x":{"datum":5.98},"x2":{"datum":7.29},"y":{"datum":0.097}}},
  {"data":{"values":[{}]},"mark":{"type":"text","text":["USP28-High (n=40)","USP28-Low (n=40)"],"align":"left","fontSize":10.5,"lineHeight":13},"encoding":{"x":{"datum":0.26},"y":{"datum":0.181}}},
  {"data":{"values":[{}]},"mark":{"type":"text","text":["p=0.046","HR= 3.8"],"align":"left","lineHeight":12},"encoding":{"x":{"datum":7.29},"y":{"datum":0.955}}},
  {"data":{"values":[{}]},"mark":{"type":"text","text":"BRAF (V600E) melanoma"},"encoding":{"x":{"datum":4.9},"y":{"datum":1.11}}},
  {"data":{"values":[{}]},"mark":{"type":"text","text":"F","fontSize":15},"encoding":{"x":{"datum":-2.14},"y":{"datum":1.129}}}
 ]}
],
"resolve":{"scale":{"x":"independent","y":"independent","color":"independent","fill":"independent","strokeDash":"independent"},"axis":{"x":"independent","y":"independent"},"legend":{"color":"independent"}}
}
